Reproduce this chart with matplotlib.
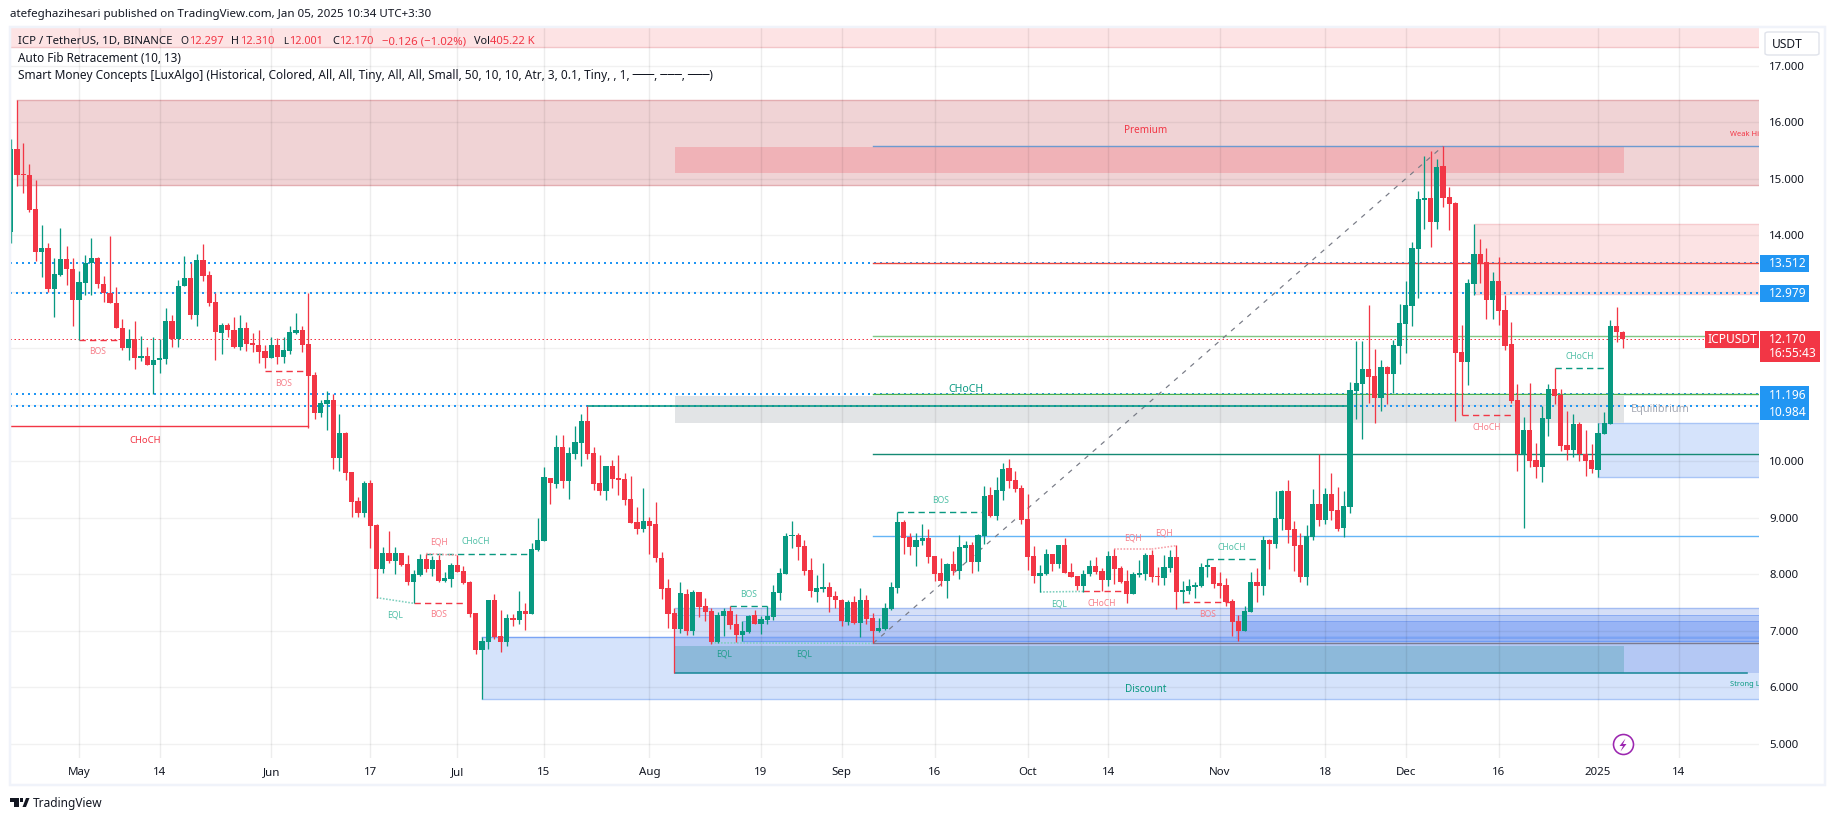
# ICP / USDT daily candles with smart money zones
import matplotlib
matplotlib.use("Agg")
import matplotlib.pyplot as plt
from matplotlib.patches import Rectangle, Polygon, FancyBboxPatch
import pandas as pd
import numpy as np

W, H = 1835, 821

# Candle data, one entry per day from 2024-04-20
opens = [14.07,15.53,15.09,15.07,14.46,13.70,13.78,13.06,13.30,13.58,
    13.41,12.86,13.16,13.51,13.60,13.15,12.98,12.80,12.37,12.01,
    12.17,11.84,11.87,11.71,11.79,11.81,12.49,12.16,13.10,13.25,
    12.59,13.57,13.30,12.82,12.28,12.41,12.33,12.03,12.37,12.09,
    12.07,11.96,11.84,12.07,11.85,11.96,12.27,12.33,12.08,11.53,
    10.86,11.02,11.09,10.07,10.50,9.81,9.30,9.09,9.62,8.88,
    8.10,8.38,8.24,8.38,8.19,7.87,7.99,8.27,8.10,8.26,
    7.89,7.92,8.17,8.06,7.87,7.32,6.67,6.80,7.55,6.91,
    6.80,7.23,7.20,7.35,7.30,8.43,8.59,9.71,9.60,10.26,
    9.65,10.13,10.33,10.72,10.15,9.62,9.48,9.92,9.69,9.69,
    9.34,8.93,8.80,8.95,8.89,8.29,7.76,7.32,7.04,7.65,
    7.00,7.69,7.44,7.35,6.81,7.27,7.35,7.13,6.93,6.98,
    7.28,7.13,7.20,7.25,7.67,8.01,8.68,8.70,8.50,8.08,
    7.69,7.74,7.78,7.62,7.55,7.16,7.51,7.14,7.55,7.23,
    7.00,7.04,7.39,7.76,8.93,8.66,8.49,8.59,8.65,8.33,
    8.03,7.89,8.19,8.06,8.47,8.52,8.22,8.68,9.41,9.04,
    9.48,9.89,9.67,9.53,8.98,8.33,7.97,8.01,8.36,8.19,
    8.52,8.04,7.97,7.80,8.01,8.15,8.06,7.90,8.33,8.11,
    7.89,7.66,7.99,8.01,8.35,7.97,7.94,8.12,8.31,7.69,
    7.71,7.78,7.80,8.14,8.13,7.85,7.81,7.53,7.18,7.00,
    7.34,7.87,7.80,8.61,8.54,8.98,9.48,8.81,8.52,7.96,
    8.66,9.25,8.97,9.43,9.14,8.82,9.20,11.25,11.37,11.64,
    11.51,11.12,11.67,11.55,12.04,12.43,12.75,13.76,14.63,14.66,
    14.24,15.23,14.68,14.57,11.94,11.76,13.14,13.67,13.53,12.86,
    13.19,12.68,12.08,11.09,10.14,10.56,10.03,9.90,10.75,11.28,
    11.17,10.29,10.20,10.66,10.14,10.03,9.85,10.49,10.66,12.40,
    12.297]
highs = [15.71,16.40,15.63,15.27,14.98,14.19,13.86,13.60,14.13,13.82,
    13.61,13.37,13.65,13.95,13.62,13.28,13.99,13.08,12.52,12.34,
    12.49,12.22,12.03,12.20,12.16,12.71,12.59,13.22,13.64,13.51,
    13.67,13.85,13.38,12.98,12.45,12.45,12.56,12.59,12.47,12.27,
    12.33,12.06,12.20,12.18,12.21,12.40,12.63,12.39,12.99,11.59,
    11.09,11.25,11.19,10.84,10.53,9.81,9.38,9.66,9.67,8.89,
    8.48,8.77,8.48,8.38,8.34,8.08,8.36,8.37,8.32,8.34,
    8.04,8.20,8.34,8.15,7.88,7.32,6.89,7.55,7.65,7.37,
    7.30,7.30,7.71,7.49,8.55,9.00,9.90,9.71,10.47,10.47,
    10.26,10.63,10.84,10.98,10.26,10.11,9.92,10.03,10.11,9.80,
    9.74,9.19,9.53,9.02,9.28,8.40,7.92,7.41,7.86,7.75,
    7.73,7.69,7.59,7.41,7.34,7.41,7.44,7.30,7.18,7.28,
    7.37,7.26,7.44,7.81,8.11,8.74,8.95,8.74,8.61,8.29,
    7.99,8.20,7.87,7.71,7.57,7.55,7.62,7.76,7.64,7.32,
    7.23,7.50,7.87,9.11,8.97,8.74,8.74,8.89,8.81,8.33,
    8.29,8.20,8.42,8.70,8.59,8.58,8.72,9.57,9.55,9.73,
    9.97,10.04,9.83,9.58,9.43,8.50,8.17,8.45,8.36,8.52,
    8.65,8.20,7.97,8.08,8.26,8.31,8.11,8.42,8.45,8.15,
    8.08,8.04,8.26,8.38,8.43,8.13,8.35,8.43,8.52,7.89,
    7.92,7.86,8.20,8.27,8.13,8.04,7.94,7.57,7.28,7.44,
    8.04,8.11,8.68,8.63,9.48,9.50,9.67,8.95,8.73,8.88,
    9.51,10.14,9.53,9.80,9.55,9.48,11.41,12.13,12.13,12.77,
    11.99,11.80,11.69,12.15,12.79,13.19,13.88,14.79,15.41,15.50,
    15.35,15.58,14.86,14.59,12.41,13.23,14.20,13.94,13.78,13.35,
    13.62,12.95,12.47,11.37,10.79,11.39,10.33,10.98,11.37,11.65,
    11.28,10.89,10.84,10.70,10.56,10.31,10.68,10.88,12.50,12.73,
    12.31]
lows = [13.87,14.88,14.76,14.42,13.55,13.27,13.00,12.56,13.29,13.12,
    12.39,12.15,12.95,12.94,13.07,12.83,12.80,12.36,11.98,11.80,
    11.64,11.77,11.70,11.19,11.56,11.73,12.03,12.03,13.10,12.52,
    12.40,13.19,12.76,11.80,11.91,12.21,12.00,11.97,11.96,11.94,
    11.74,11.65,11.83,11.73,11.74,11.91,12.25,11.93,10.60,10.76,
    10.79,10.56,9.87,9.83,9.67,9.02,9.01,9.02,8.47,7.59,
    8.03,8.20,8.01,8.15,7.82,7.49,7.98,8.05,7.98,7.87,
    7.87,7.78,8.04,7.83,7.25,6.59,5.80,6.68,6.86,6.63,
    6.73,7.09,7.12,7.02,7.30,8.42,8.59,9.25,9.53,9.53,
    9.34,10.04,9.92,10.04,9.49,9.41,9.32,9.53,9.41,9.23,
    8.91,8.72,8.75,8.36,8.22,7.57,7.05,6.25,6.96,6.93,
    6.93,7.25,7.17,6.77,6.79,6.91,7.04,6.81,6.82,6.96,
    7.13,6.95,7.13,7.20,7.55,8.01,8.47,8.26,7.99,7.60,
    7.51,7.69,7.34,7.41,7.09,7.11,7.13,6.90,7.13,6.79,
    6.98,7.02,7.37,7.67,8.36,8.35,8.15,8.52,8.20,7.89,
    7.80,7.58,7.99,7.92,8.22,8.03,8.06,8.54,9.02,8.97,
    9.32,9.53,9.46,8.89,8.08,7.85,7.69,7.99,8.06,8.11,
    8.03,7.96,7.73,7.69,7.97,8.01,7.71,7.80,7.83,7.85,
    7.50,7.66,7.96,7.90,7.87,7.81,7.81,8.04,7.39,7.50,
    7.66,7.58,7.78,7.96,7.76,7.58,7.44,6.91,6.82,7.00,
    7.34,7.51,7.64,8.10,8.47,8.79,8.56,8.06,7.87,7.81,
    8.61,8.86,8.89,8.97,8.77,8.66,9.09,10.75,10.40,11.03,
    10.68,10.89,11.02,11.21,11.73,11.92,12.40,12.89,14.11,13.80,
    14.11,14.50,14.10,10.72,10.82,11.35,12.95,13.16,12.52,12.52,
    12.42,11.97,11.03,9.83,8.82,9.90,9.71,9.64,10.45,11.02,
    10.18,10.03,10.08,10.01,9.74,9.80,9.73,10.49,10.66,12.12,
    12.001]
closes = [15.53,15.07,15.07,14.45,13.70,13.78,13.06,13.32,13.58,13.41,
    12.86,13.17,13.51,13.60,13.14,12.98,12.80,12.37,12.01,12.17,
    11.84,11.87,11.71,11.80,11.84,12.49,12.16,13.11,13.25,12.59,
    13.57,13.29,12.81,12.29,12.41,12.32,12.03,12.37,12.08,12.06,
    11.94,11.84,12.07,11.85,11.97,12.29,12.33,12.07,11.51,10.86,
    11.03,11.09,10.07,10.50,9.80,9.29,9.09,9.62,8.86,8.10,
    8.38,8.24,8.38,8.17,7.87,8.01,8.27,8.10,8.26,7.89,
    7.94,8.17,8.04,7.85,7.30,6.67,6.82,7.55,6.89,6.80,
    7.23,7.20,7.35,7.30,8.45,8.61,9.72,9.62,10.26,9.65,
    10.15,10.34,10.72,10.13,9.60,9.48,9.92,9.69,9.68,9.32,
    8.91,8.80,8.95,8.86,8.29,7.74,7.30,7.04,7.67,7.00,
    7.69,7.43,7.34,6.81,7.28,7.35,7.11,6.93,7.00,7.27,
    7.13,7.21,7.27,7.69,8.03,8.68,8.70,8.49,8.06,7.71,
    7.76,7.78,7.60,7.55,7.18,7.51,7.14,7.55,7.21,7.00,
    7.05,7.41,7.78,8.93,8.65,8.49,8.61,8.65,8.31,8.01,
    7.89,8.19,8.06,8.49,8.52,8.22,8.70,9.39,9.04,9.50,
    9.87,9.66,9.51,8.97,8.31,7.97,8.03,8.36,8.19,8.52,
    8.03,7.96,7.80,8.01,8.15,8.04,7.90,8.33,8.10,7.87,
    7.66,8.01,8.03,8.35,7.96,7.96,8.13,8.31,7.69,7.73,
    7.80,7.81,8.13,8.15,7.83,7.80,7.51,7.16,7.00,7.35,
    7.87,7.80,8.61,8.54,9.00,9.48,8.79,8.50,7.96,8.68,
    9.25,8.97,9.43,9.12,8.81,9.21,11.27,11.39,11.64,11.49,
    11.12,11.67,11.55,12.06,12.45,12.77,13.78,14.65,14.66,14.24,
    15.21,14.66,14.56,11.92,11.76,13.16,13.67,13.50,12.86,13.19,
    12.66,12.04,11.07,10.13,10.56,10.01,9.90,10.77,11.28,11.16,
    10.27,10.20,10.66,10.13,10.01,9.87,10.50,10.68,12.40,12.297,
    12.17]

price_ticks = [5, 6, 7, 8, 9, 10, 14, 15, 16, 17]
grid_prices = list(range(5, 18))
date_ticks = ["2024-05-01","2024-05-14","2024-06-01","2024-06-17","2024-07-01","2024-07-15",
    "2024-08-01","2024-08-19","2024-09-01","2024-09-16","2024-10-01","2024-10-14",
    "2024-11-01","2024-11-18","2024-12-01","2024-12-16","2025-01-01","2025-01-14"]
date_labels = ["May","14","Jun","17","Jul","15","Aug","19","Sep","16","Oct","14","Nov","18","Dec","16","2025","14"]

# levels
fib_dotted = [13.512, 12.979, 11.196, 10.984]
last_price = 12.170
fib_levels = [15.58, 13.51, 12.215, 11.19, 10.14, 8.68]
fib_colors = ["#6c9ad0", "#e8473f", "#81c784", "#4caf50", "#158a74", "#64b5f6"]

# structure breaks: start bar, end bar, price
teal_dash = [(67, 84, 8.37), (116, 122, 7.44), (143, 156.6, 9.10), (193, 201, 8.27), (249, 257, 11.65)]
red_dash = [(11, 17.2, 12.15), (41, 47.5, 11.60), (65, 73, 7.49), (173, 180, 7.70), (189, 197, 7.51), (234, 242, 10.82)]
teal_dot = [(59, 65, 7.59, 7.49), (113, 139, 6.79, 6.78), (166, 173, 7.69, 7.70)]
red_dot = [(67, 72, 8.37, 8.34), (178, 184, 8.45, 8.45), (184, 188, 8.45, 8.51)]

teal_labels = [("CHoCH", 75, 8.59), ("EQL", 62, 7.29), ("BOS", 119, 7.65),
    ("BOS", 150, 9.31), ("EQL", 169, 7.48), ("CHoCH", 197, 8.48), ("CHoCH", 253, 11.86)]
dark_teal_labels = [("EQL", 115, 6.60), ("EQL", 128, 6.59)]
red_labels = [("BOS", 14, 11.94), ("BOS", 44, 11.38), ("EQH", 69, 8.57), ("BOS", 69, 7.29), ("CHoCH", 176, 7.49),
    ("EQH", 181, 8.65), ("EQH", 186, 8.74), ("BOS", 193, 7.30), ("CHoCH", 238, 10.60)]

plt.rcParams["font.family"] = ["Noto Sans", "DejaVu Sans"]

px = 0.72  # points per pixel at dpi 100
fig = plt.figure(figsize=(W / 100, H / 100), dpi=100, facecolor="white")

ax = fig.add_axes([10 / W, 1 - 758 / H, 1749 / W, 731 / H])
x = np.arange(len(opens))
o, h, l, c = map(np.array, (opens, highs, lows, closes))
start = pd.Timestamp("2024-04-20")
tick_pos = [(pd.Timestamp(d) - start).days for d in date_ticks]

ax.set_xlim(-0.13, 281.97)
ax.set_ylim(4.752, 17.69)
for s in ax.spines.values():
    s.set_visible(False)
XR = 282


def zone(x0, x1, y0, y1, color, alpha=1.0, z=1.0, edge=None):
    ax.add_patch(Rectangle((x0, y0), x1 - x0, y1 - y0, facecolor=color, alpha=alpha, lw=0, zorder=z))
    if edge:
        ax.plot([x0, x1], [y0, y0], color=edge, lw=1.4 * px, zorder=z + 0.01)
        ax.plot([x0, x1], [y1, y1], color=edge, lw=1.4 * px, zorder=z + 0.01)


# zones
zone(-0.13, XR, 17.33, 17.8, "#fde3e4", edge="#f3c6c9")
zone(1, XR, 14.89, 16.40, "#f0d3d5", edge="#e3adb1")
zone(107.1, 260.2, 15.11, 15.57, "#f0b2b7", z=1.02)
zone(236.2, XR, 12.96, 14.20, "#fce3e4", edge="#f6cbce")
zone(107.1, 260.2, 10.69, 11.16, "#e2e4e6", z=1.02)
zone(256, XR, 9.73, 10.68, "#d5e3fb", edge="#a9c5f6")
zone(76, XR, 5.80, 6.89, "#d5e3fb", edge="#a9c5f6")
zone(107.1, XR, 6.25, 7.40, "#3060d8", alpha=0.2, z=1.03)
ax.plot([107.1, XR], [7.40, 7.40], color="#a3bcf2", lw=1.4 * px, zorder=1.04)
zone(118.1, XR, 6.83, 7.18, "#2f66ee", alpha=0.2, z=1.05)
ax.plot([118.1, XR], [7.18, 7.18], color="#93b0f0", lw=1 * px, zorder=1.06)
zone(197.6, XR, 6.85, 7.28, "#2f6cf5", alpha=0.2, z=1.07)
ax.plot([107.1, XR], [7.28, 7.28], color="#a3bcf2", lw=1 * px, zorder=1.06)
ax.plot([76, XR], [6.89, 6.89], color="#7ba4f4", lw=1.2 * px, zorder=1.08)
ax.plot([118, XR], [6.83, 6.83], color="#6f9cf6", lw=1.2 * px, zorder=1.08)
zone(107.1, 260.2, 6.25, 6.735, "#8db9da", z=1.09)

# grid sits over the zones, faint enough to let them through
for p in grid_prices:
    ax.axhline(p, color="#000000", alpha=0.055, lw=1.4 * px, zorder=1.5)
for t in tick_pos:
    ax.axvline(t, color="#000000", alpha=0.07, lw=1.4 * px, zorder=1.5)

# dotted levels
for v in fib_dotted:
    ax.axhline(v, color="#2196f3", lw=2 * px, ls=(0, (1, 2)), zorder=1.7, dash_capstyle="butt")
ax.axhline(last_price, color="#f23645", lw=1 * px, ls=(0, (1.5, 2.5)), zorder=1.7, dash_capstyle="butt")

# auto fib
for v, col in zip(fib_levels, fib_colors):
    ax.plot([139.06, XR], [v, v], color=col, lw=1.4 * px, zorder=1.8)
ax.plot([139.06, XR], [6.78, 6.78], color="#7a7a90", lw=1.4 * px, zorder=1.8)
ax.plot([139.06, 231], [6.78, 15.58], color="#787b86", lw=1.2 * px, ls=(0, (4, 5)), zorder=1.8)

# structure
ax.plot([93.1, 215.7], [10.98, 10.98], color="#089981", lw=1.6 * px, zorder=1.85)
ax.plot([-0.13, 48], [10.63, 10.63], color="#f23645", lw=1.4 * px, zorder=1.85)
ax.plot([107.1, 280], [6.25, 6.25], color="#1c8a9a", lw=1.6 * px, zorder=1.85)
for a, b, v in teal_dash:
    ax.plot([a, b], [v, v], color="#089981", lw=1.4 * px, ls=(0, (4.5, 3)), zorder=1.85)
for a, b, v in red_dash:
    ax.plot([a, b], [v, v], color="#f23645", lw=1.4 * px, ls=(0, (4.5, 3)), zorder=1.85)
for a, b, v0, v1 in teal_dot:
    ax.plot([a, b], [v0, v1], color="#7fcfbe", lw=1.6 * px, ls=(0, (1, 1)), zorder=1.85)
for a, b, v0, v1 in red_dot:
    ax.plot([a, b], [v0, v1], color="#f7a0a8", lw=1.6 * px, ls=(0, (1, 1)), zorder=1.85)

# candles
up = c >= o
colors = np.where(up, "#089981", "#f23645")
ax.vlines(x, l, h, colors=colors, lw=1.3 * px, zorder=3)
bottoms = np.minimum(o, c)
heights = np.maximum(np.abs(c - o), 0.02)
ax.bar(x, heights, bottom=bottoms, width=0.84, color=colors, lw=0, zorder=3.1)

# small labels
for t, a, v in teal_labels:
    ax.text(a, v, t, color="#4fbfa6", fontsize=8.5 * px, ha="center", va="center", zorder=4)
for t, a, v in dark_teal_labels:
    ax.text(a, v, t, color="#1f9d8c", fontsize=8.5 * px, ha="center", va="center", zorder=4)
for t, a, v in red_labels:
    ax.text(a, v, t, color="#f77f8a", fontsize=8.5 * px, ha="center", va="center", zorder=4)
ax.text(21.7, 10.38, "CHoCH", color="#f23645", fontsize=9.5 * px, ha="center", va="center", zorder=4)
ax.text(154, 11.27, "CHoCH", color="#089981", fontsize=10.5 * px, ha="center", va="center", zorder=4)
ax.text(183, 15.85, "Premium", color="#f23645", fontsize=10 * px, ha="center", va="center", zorder=4)
ax.text(183, 5.97, "Discount", color="#089981", fontsize=10 * px, ha="center", va="center", zorder=4)
ax.text(266, 10.92, "Equilibrium", color="#a9acb6", fontsize=11 * px, ha="center", va="center", zorder=4)
ax.text(277.3, 15.79, "Weak High", color="#f23645", fontsize=7.5 * px, ha="left", va="center", zorder=4, clip_on=True)
ax.text(277.3, 6.05, "Strong Low", color="#089981", fontsize=7.5 * px, ha="left", va="center", zorder=4, clip_on=True)

# axes
ax.yaxis.tick_right()
ax.set_yticks(price_ticks)
ax.set_yticklabels(["%.3f" % p for p in price_ticks], fontsize=11.5 * px, color="#131722")
ax.set_xticks(tick_pos)
ax.set_xticklabels(date_labels, fontsize=11.5 * px, color="#131722")
for lab in ax.get_xticklabels():
    if lab.get_text() == "2025":
        lab.set_fontweight("bold")
ax.tick_params(axis="y", length=0, pad=10 * px)
ax.tick_params(axis="x", length=0, pad=9 * px)


def fx(v):
    return v / W


def fy(v):
    return 1 - v / H


def box(x0, y0, x1, y1, color, z=5):
    fig.add_artist(Rectangle((fx(x0), fy(y1)), (x1 - x0) / W, (y1 - y0) / H, transform=fig.transFigure,
                             facecolor=color, lw=0, zorder=z))


def shape(points, color, z=7):
    fig.add_artist(Polygon([(fx(a), fy(b)) for a, b in points], closed=True, transform=fig.transFigure,
                           facecolor=color, lw=0, zorder=z))


def txt(x0, y0, s, color="#131722", size=12, ha="left", weight="normal", x1=None):
    t = fig.text(fx(x0), fy(y0), s, color=color, fontsize=size * px, ha=ha, va="center", fontweight=weight, zorder=6)
    if x1 is not None:
        # scale the font so the string spans the measured width
        w = t.get_window_extent(fig.canvas.get_renderer()).width
        t.set_fontsize(t.get_fontsize() * (x1 - x0) / w)
    return t


# release marker
ax.plot([260], [5.0], marker="o", ms=20 * px, mfc="white", mec="#9c27b0", mew=1.6 * px, zorder=5, clip_on=False)
shape([(1625.5, 738.5), (1619.5, 746), (1623, 746), (1620.5, 751.5), (1626.5, 744), (1623, 744)], "#9c27b0")

# outer frame
fig.add_artist(Rectangle((fx(10), fy(785)), 1815 / W, 758 / H, transform=fig.transFigure, fill=False,
                         edgecolor="#f0f3fa", lw=2.5 * px, zorder=4))

# price tags
blue = "#2196f3"
box(1760, 255, 1809, 272, blue)
box(1760, 285, 1809, 302, blue)
box(1760, 386, 1809, 420, blue)
box(1705, 331, 1759, 348, "#f23645")
box(1760, 331, 1820, 362, "#f23645")
txt(1769, 263.5, "13.512", "white")
txt(1769, 293.5, "12.979", "white")
txt(1769, 395, "11.196", "white")
txt(1769, 412, "10.984", "white")
txt(1732, 339.5, "ICPUSDT", "white", ha="center")
txt(1769, 339.5, "12.170", "white")
txt(1769, 353.5, "16:55:43", "white")

# currency button
fig.add_artist(FancyBboxPatch((fx(1765), fy(55)), 54 / W, 23 / H, boxstyle="round,pad=0,rounding_size=0.002",
                              transform=fig.transFigure, facecolor="white", edgecolor="#e0e3eb", lw=1.4 * px, zorder=5))
txt(1772, 44, "USDT")

# header and legend
txt(10, 15, "atefeghazihesari published on TradingView.com, Jan 05, 2025 10:34 UTC+3:30", x1=429)
txt(18, 41.5, "ICP / TetherUS, 1D, BINANCE", x1=172)
red = "#f23645"
for xp, xe, s, col in [(180, 188, "O", "#131722"), (189, 224, "12.297", red), (231, 239, "H", "#131722"),
                       (240, 275, "12.310", red), (283, 288, "L", "#131722"), (289, 323, "12.001", red),
                       (332, 339, "C", "#131722"), (339, 374, "12.170", red),
                       (382, 466, "\u22120.126 (\u22121.02%)", red), (474, 490, "Vol", "#131722"),
                       (490, 535, "405.22 K", red)]:
    txt(xp, 41.5, s, col, x1=xe)
txt(18, 59, "Auto Fib Retracement (10, 13)", x1=181)
txt(18, 76, "Smart Money Concepts [LuxAlgo] (Historical, Colored, All, All, Tiny, All, All, Small, 50, 10, 10, Atr, 3, 0.1, Tiny, , 1, \u2500\u2500\u2500, \u2500\u2500\u2500, \u2500\u2500\u2500)", x1=714)

# logo
dark = "#131722"
shape([(10, 798), (18.5, 798), (18.5, 807), (14, 807), (14, 801.5), (10, 801.5)], dark)
shape([(22.5, 807), (26, 798), (29.5, 798), (26, 807)], dark)
box(19.5, 798, 22.5, 801.5, dark)
txt(33, 803, "TradingView", dark, 14, x1=103)

fig.savefig("out.png", dpi=100, facecolor="white")
